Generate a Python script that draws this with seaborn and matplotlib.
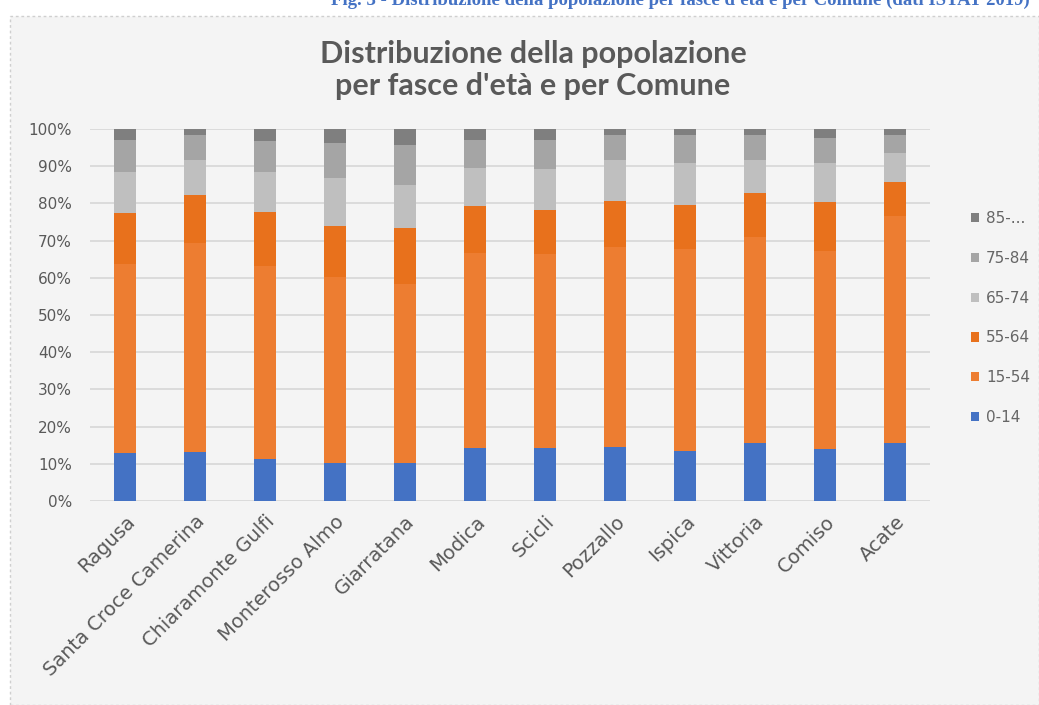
import matplotlib
matplotlib.use('Agg')
import matplotlib.pyplot as plt
from matplotlib.patches import Rectangle, Patch
import seaborn as sns
import numpy as np

# ------------------------------------------------------------
# Dati (percentuali)
# ------------------------------------------------------------
comuni = ['Ragusa', 'Santa Croce Camerina', 'Chiaramonte Gulfi', 'Monterosso Almo',
          'Giarratana', 'Modica', 'Scicli', 'Pozzallo', 'Ispica', 'Vittoria',
          'Comiso', 'Acate']
fasce = ['0-14', '15-54', '55-64', '65-74', '75-84', '85-...']

eta_0_14 = [12.9, 13.3, 11.2, 10.3, 10.3, 14.2, 14.2, 14.6, 13.5, 15.7, 13.9, 15.7]
eta_15_54 = [50.8, 56.1, 52.0, 49.8, 48.0, 52.6, 52.2, 53.8, 54.2, 55.2, 53.4, 60.9]
eta_55_64 = [13.8, 12.9, 14.6, 13.8, 15.0, 12.5, 11.8, 12.3, 11.9, 11.8, 13.2, 9.2]
eta_65_74 = [11.0, 9.5, 10.7, 12.8, 11.6, 10.1, 11.0, 11.0, 11.3, 9.1, 10.4, 7.8]
eta_75_84 = [8.5, 6.6, 8.4, 9.5, 10.8, 7.6, 7.8, 6.7, 7.5, 6.6, 6.6, 4.8]
eta_85 = [3.0, 1.6, 3.1, 3.8, 4.3, 3.0, 3.0, 1.6, 1.6, 1.6, 2.5, 1.6]

serie = [eta_0_14, eta_15_54, eta_55_64, eta_65_74, eta_75_84, eta_85]
colori = ['#4472C4', '#ED7D31', '#E8711C', '#BFBFBF', '#A5A5A5', '#7F7F7F']

# ------------------------------------------------------------
# Stile
# ------------------------------------------------------------
sns.set_style("white")
plt.rcParams['font.family'] = ['DejaVu Sans']
bg = '#f4f4f4'
grigio_testo = '#595959'

fig = plt.figure(figsize=(10.39, 7.05), dpi=100)
fig.patch.set_facecolor('white')

# riquadro grigio del grafico (dietro agli assi)
fig.patches.append(Rectangle((10 / 1039, 0), 1 - 10 / 1039, 689 / 705,
                             transform=fig.transFigure, facecolor=bg,
                             edgecolor='#cfcfcf', linestyle=(0, (2, 2)),
                             linewidth=1, zorder=-10))

ax = fig.add_axes([90 / 1039, 1 - 501 / 705, 840 / 1039, 372 / 705])
ax.set_facecolor(bg)

# barre in pila
base = np.zeros(len(comuni))
for valori, col, lab in zip(serie, colori, fasce):
    sns.barplot(x=comuni, y=valori, bottom=base, color=col, width=0.31,
                saturation=1, linewidth=0, ax=ax, zorder=3, label=lab)
    base = base + np.array(valori)

ax.set_ylim(0, 100)
ax.set_xlim(-0.5, len(comuni) - 0.5)
ax.set_yticks(np.arange(0, 101, 10))
ax.set_yticklabels([f'{v}%' for v in range(0, 101, 10)])
ax.yaxis.grid(True, color='#d9d9d9', linewidth=1.3, zorder=0)
ax.set_axisbelow(True)
ax.tick_params(axis='y', length=0, pad=13, labelsize=11, labelcolor=grigio_testo)
ax.tick_params(axis='x', length=0, pad=8, labelsize=14, labelcolor=grigio_testo)
plt.setp(ax.get_xticklabels(), rotation=45, ha='right', rotation_mode='anchor')
ax.set_xlabel('')
ax.set_ylabel('')
sns.despine(ax=ax, left=True, bottom=True)

# legenda (ordine invertito come nell'originale)
handles = [Patch(facecolor=c, edgecolor='none') for c in colori][::-1]
ax.legend(handles, fasce[::-1], loc='center left',
          bbox_to_anchor=(963 / 1039, 1 - 318 / 705), bbox_transform=fig.transFigure,
          frameon=False, handlelength=0.55, handleheight=0.55, handletextpad=0.45,
          labelspacing=1.62, borderpad=0, fontsize=11, labelcolor='#666666')

# titolo
fig.text(533 / 1039, 1 - 70 / 705,
         "Distribuzione della popolazione\nper fasce d'età e per Comune",
         ha='center', va='center', fontsize=22, fontweight='bold',
         color=grigio_testo, family='Lato', linespacing=1.2)

# didascalia blu tagliata in alto
fig.text(1030 / 1039, 1 - 5 / 705,
         "Fig. 3 - Distribuzione della popolazione per fasce d'età e per Comune (dati ISTAT 2019)",
         ha='right', va='baseline', fontsize=13.5, fontweight='bold',
         color='#4472C4', family='Liberation Serif')

plt.savefig('out.png', dpi=100, facecolor=fig.get_facecolor())
plt.close()
